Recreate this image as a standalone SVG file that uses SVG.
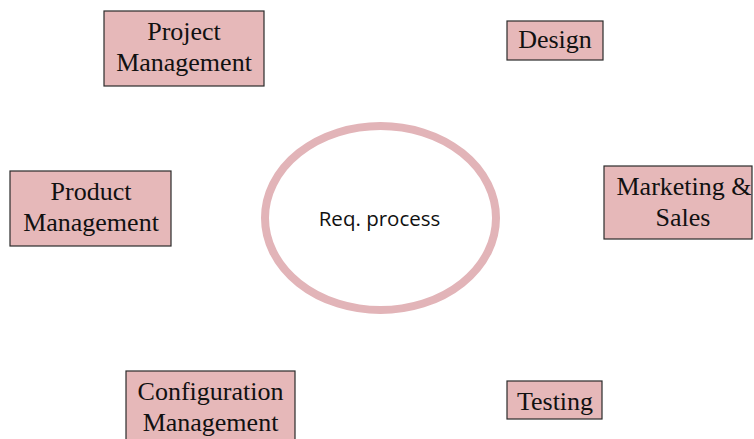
<svg xmlns="http://www.w3.org/2000/svg" width="754" height="439" viewBox="0 0 754 439">
  <style>
    .box { fill: #e6b8b9; stroke: #2b2b2b; stroke-width: 1.2; }
    .lbl { font-family: "Liberation Serif", "Times New Roman", serif; font-size: 26px; fill: #111; text-anchor: middle; }
    .hub { fill: #ffffff; stroke: #e2b4b8; stroke-width: 8; }
    .hub-lbl { font-family: "Open Sans", "Noto Sans", sans-serif; font-size: 20.5px; fill: #111; text-anchor: middle; }
  </style>
  <rect width="754" height="439" fill="#ffffff"/>

  <g id="connectors"></g>

  <g id="req-process">
    <ellipse class="hub" cx="380.5" cy="218" rx="115.5" ry="92"/>
    <text class="hub-lbl" x="379.5" y="226">Req. process</text>
  </g>

  <g id="project-management">
    <rect class="box" x="104" y="11" width="160" height="75"/>
    <text class="lbl" x="184" y="40">Project</text>
    <text class="lbl" x="184" y="71">Management</text>
  </g>

  <g id="design">
    <rect class="box" x="507" y="21" width="96" height="39"/>
    <text class="lbl" x="555" y="48">Design</text>
  </g>

  <g id="product-management">
    <rect class="box" x="10" y="171" width="161" height="75"/>
    <text class="lbl" x="91" y="200">Product</text>
    <text class="lbl" x="91" y="231">Management</text>
  </g>

  <g id="marketing-sales">
    <rect class="box" x="604" y="166" width="148" height="73"/>
    <text class="lbl" x="684" y="195">Marketing &amp;</text>
    <text class="lbl" x="683" y="226">Sales</text>
  </g>

  <g id="configuration-management">
    <rect class="box" x="126" y="371" width="169" height="75"/>
    <text class="lbl" x="210.5" y="400">Configuration</text>
    <text class="lbl" x="210.5" y="431">Management</text>
  </g>

  <g id="testing">
    <rect class="box" x="507" y="381" width="95" height="38"/>
    <text class="lbl" x="555" y="410">Testing</text>
  </g>
</svg>
